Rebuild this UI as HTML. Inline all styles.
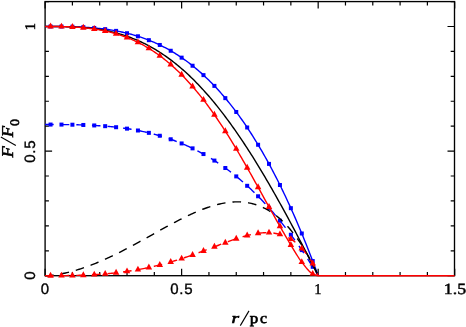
<!DOCTYPE html>
<html><head><meta charset="utf-8">
<style>
html,body{margin:0;padding:0;background:#fff;}
body{width:466px;height:327px;overflow:hidden;position:relative;}
svg{position:absolute;left:0;top:0;display:block;will-change:transform;}
text{fill:#000;text-rendering:geometricPrecision;}
.sans{font-family:"Liberation Sans",sans-serif;font-size:15px;stroke:#000;stroke-width:0.35px;}
.serif{font-family:"Liberation Serif",serif;font-size:15.5px;stroke:#000;stroke-width:0.45px;}
</style></head>
<body>
<svg width="466" height="327" viewBox="0 0 466 327">
<rect x="0" y="0" width="466" height="327" fill="#fff"/>
<rect x="45.10" y="1.58" width="409.40" height="274.12" fill="none" stroke="#000" stroke-width="1.35"/>
<path d="M45.10,275.70v-7 M45.10,1.58v7 M72.41,275.70v-3.8 M72.41,1.58v3.8 M99.71,275.70v-3.8 M99.71,1.58v3.8 M127.02,275.70v-3.8 M127.02,1.58v3.8 M154.33,275.70v-3.8 M154.33,1.58v3.8 M181.63,275.70v-7 M181.63,1.58v7 M208.94,275.70v-3.8 M208.94,1.58v3.8 M236.25,275.70v-3.8 M236.25,1.58v3.8 M263.55,275.70v-3.8 M263.55,1.58v3.8 M290.86,275.70v-3.8 M290.86,1.58v3.8 M318.17,275.70v-7 M318.17,1.58v7 M345.47,275.70v-3.8 M345.47,1.58v3.8 M372.78,275.70v-3.8 M372.78,1.58v3.8 M400.09,275.70v-3.8 M400.09,1.58v3.8 M427.39,275.70v-3.8 M427.39,1.58v3.8 M454.70,275.70v-7 M454.70,1.58v7 M45.10,275.70h7 M454.50,275.70h-7 M45.10,250.78h3.8 M454.50,250.78h-3.8 M45.10,225.86h3.8 M454.50,225.86h-3.8 M45.10,200.94h3.8 M454.50,200.94h-3.8 M45.10,176.02h3.8 M454.50,176.02h-3.8 M45.10,151.10h7 M454.50,151.10h-7 M45.10,126.18h3.8 M454.50,126.18h-3.8 M45.10,101.26h3.8 M454.50,101.26h-3.8 M45.10,76.34h3.8 M454.50,76.34h-3.8 M45.10,51.42h3.8 M454.50,51.42h-3.8 M45.10,26.50h7 M454.50,26.50h-7 M45.10,1.58h3.8 M454.50,1.58h-3.8" fill="none" stroke="#000" stroke-width="1.2"/>
<path d="M45.10,26.50 L46.47,26.50 L47.83,26.50 L49.20,26.50 L50.56,26.50 L51.93,26.50 L53.29,26.51 L54.66,26.51 L56.02,26.52 L57.39,26.52 L58.75,26.53 L60.12,26.54 L61.48,26.55 L62.85,26.57 L64.21,26.59 L65.58,26.61 L66.95,26.63 L68.31,26.65 L69.68,26.68 L71.04,26.71 L72.41,26.75 L73.77,26.79 L75.14,26.83 L76.50,26.88 L77.87,26.93 L79.23,26.99 L80.60,27.05 L81.96,27.11 L83.33,27.18 L84.69,27.26 L86.06,27.34 L87.43,27.43 L88.79,27.52 L90.16,27.62 L91.52,27.72 L92.89,27.84 L94.25,27.95 L95.62,28.08 L96.98,28.21 L98.35,28.35 L99.71,28.49 L101.08,28.65 L102.44,28.81 L103.81,28.98 L105.17,29.15 L106.54,29.34 L107.91,29.53 L109.27,29.73 L110.64,29.94 L112.00,30.16 L113.37,30.39 L114.73,30.63 L116.10,30.88 L117.46,31.14 L118.83,31.41 L120.19,31.68 L121.56,31.97 L122.92,32.27 L124.29,32.58 L125.65,32.90 L127.02,33.23 L128.39,33.57 L129.75,33.92 L131.12,34.29 L132.48,34.67 L133.85,35.05 L135.21,35.46 L136.58,35.87 L137.94,36.29 L139.31,36.73 L140.67,37.18 L142.04,37.65 L143.40,38.13 L144.77,38.62 L146.13,39.12 L147.50,39.64 L148.87,40.17 L150.23,40.72 L151.60,41.28 L152.96,41.86 L154.33,42.45 L155.69,43.05 L157.06,43.68 L158.42,44.31 L159.79,44.96 L161.15,45.63 L162.52,46.31 L163.88,47.01 L165.25,47.73 L166.61,48.46 L167.98,49.21 L169.35,49.97 L170.71,50.76 L172.08,51.56 L173.44,52.37 L174.81,53.21 L176.17,54.06 L177.54,54.93 L178.90,55.82 L180.27,56.72 L181.63,57.65 L183.00,58.59 L184.36,59.56 L185.73,60.54 L187.09,61.54 L188.46,62.56 L189.83,63.60 L191.19,64.66 L192.56,65.74 L193.92,66.84 L195.29,67.96 L196.65,69.10 L198.02,70.26 L199.38,71.45 L200.75,72.65 L202.11,73.88 L203.48,75.12 L204.84,76.39 L206.21,77.68 L207.57,78.99 L208.94,80.33 L210.31,81.68 L211.67,83.06 L213.04,84.47 L214.40,85.89 L215.77,87.34 L217.13,88.81 L218.50,90.31 L219.86,91.83 L221.23,93.37 L222.59,94.94 L223.96,96.53 L225.32,98.14 L226.69,99.78 L228.05,101.45 L229.42,103.14 L230.79,104.86 L232.15,106.60 L233.52,108.36 L234.88,110.16 L236.25,111.98 L237.61,113.82 L238.98,115.69 L240.34,117.59 L241.71,119.51 L243.07,121.46 L244.44,123.44 L245.80,125.45 L247.17,127.48 L248.53,129.54 L249.90,131.63 L251.27,133.75 L252.63,135.89 L254.00,138.07 L255.36,140.27 L256.73,142.50 L258.09,144.76 L259.46,147.05 L260.82,149.37 L262.19,151.71 L263.55,154.09 L264.92,156.50 L266.28,158.94 L267.65,161.40 L269.01,163.90 L270.38,166.43 L271.75,168.99 L273.11,171.58 L274.48,174.20 L275.84,176.86 L277.21,179.54 L278.57,182.26 L279.94,185.01 L281.30,187.79 L282.67,190.60 L284.03,193.44 L285.40,196.32 L286.76,199.23 L288.13,202.18 L289.49,205.16 L290.86,208.17 L292.23,211.21 L293.59,214.29 L294.96,217.40 L296.32,220.55 L297.69,223.73 L299.05,226.95 L300.42,230.20 L301.78,233.48 L303.15,236.80 L304.51,240.16 L305.88,243.55 L307.24,246.98 L308.61,250.44 L309.97,253.94 L311.34,257.47 L312.71,261.05 L314.07,264.65 L315.44,268.30 L316.80,271.98 L318.17,275.70" fill="none" stroke="#00f" stroke-width="1.4"/>
<path d="M45.10,124.56 L46.47,124.56 L47.83,124.56 L49.20,124.56 L50.56,124.56 L51.93,124.56 L53.29,124.56 L54.66,124.57 L56.02,124.57 L57.39,124.57 L58.75,124.58 L60.12,124.59 L61.48,124.59 L62.85,124.60 L64.21,124.61 L65.58,124.62 L66.95,124.64 L68.31,124.65 L69.68,124.67 L71.04,124.69 L72.41,124.71 L73.77,124.74 L75.14,124.76 L76.50,124.79 L77.87,124.82 L79.23,124.86 L80.60,124.89 L81.96,124.93 L83.33,124.97 L84.69,125.02 L86.06,125.07 L87.43,125.12 L88.79,125.18 L90.16,125.24 L91.52,125.30 L92.89,125.37 L94.25,125.44 L95.62,125.52 L96.98,125.60 L98.35,125.68 L99.71,125.77 L101.08,125.86 L102.44,125.96 L103.81,126.06 L105.17,126.17 L106.54,126.28 L107.91,126.40 L109.27,126.52 L110.64,126.65 L112.00,126.78 L113.37,126.92 L114.73,127.07 L116.10,127.22 L117.46,127.37 L118.83,127.54 L120.19,127.70 L121.56,127.88 L122.92,128.06 L124.29,128.25 L125.65,128.44 L127.02,128.64 L128.39,128.85 L129.75,129.06 L131.12,129.28 L132.48,129.51 L133.85,129.75 L135.21,129.99 L136.58,130.24 L137.94,130.50 L139.31,130.77 L140.67,131.04 L142.04,131.32 L143.40,131.61 L144.77,131.91 L146.13,132.22 L147.50,132.53 L148.87,132.85 L150.23,133.19 L151.60,133.53 L152.96,133.87 L154.33,134.23 L155.69,134.60 L157.06,134.98 L158.42,135.36 L159.79,135.76 L161.15,136.16 L162.52,136.58 L163.88,137.00 L165.25,137.43 L166.61,137.88 L167.98,138.33 L169.35,138.80 L170.71,139.27 L172.08,139.76 L173.44,140.25 L174.81,140.76 L176.17,141.28 L177.54,141.80 L178.90,142.34 L180.27,142.89 L181.63,143.45 L183.00,144.03 L184.36,144.61 L185.73,145.20 L187.09,145.81 L188.46,146.43 L189.83,147.06 L191.19,147.70 L192.56,148.36 L193.92,149.03 L195.29,149.71 L196.65,150.40 L198.02,151.10 L199.38,151.82 L200.75,152.55 L202.11,153.29 L203.48,154.05 L204.84,154.82 L206.21,155.60 L207.57,156.40 L208.94,157.21 L210.31,158.03 L211.67,158.87 L213.04,159.72 L214.40,160.58 L215.77,161.46 L217.13,162.35 L218.50,163.26 L219.86,164.18 L221.23,165.12 L222.59,166.07 L223.96,167.03 L225.32,168.01 L226.69,169.01 L228.05,170.02 L229.42,171.04 L230.79,172.08 L232.15,173.14 L233.52,174.21 L234.88,175.30 L236.25,176.40 L237.61,177.52 L238.98,178.65 L240.34,179.81 L241.71,180.97 L243.07,182.16 L244.44,183.36 L245.80,184.57 L247.17,185.81 L248.53,187.06 L249.90,188.32 L251.27,189.61 L252.63,190.91 L254.00,192.23 L255.36,193.56 L256.73,194.91 L258.09,196.28 L259.46,197.67 L260.82,199.08 L262.19,200.50 L263.55,201.94 L264.92,203.40 L266.28,204.88 L267.65,206.38 L269.01,207.89 L270.38,209.43 L271.75,210.98 L273.11,212.55 L274.48,214.14 L275.84,215.75 L277.21,217.38 L278.57,219.03 L279.94,220.69 L281.30,222.38 L282.67,224.09 L284.03,225.81 L285.40,227.56 L286.76,229.32 L288.13,231.11 L289.49,232.91 L290.86,234.74 L292.23,236.59 L293.59,238.45 L294.96,240.34 L296.32,242.25 L297.69,244.18 L299.05,246.13 L300.42,248.10 L301.78,250.09 L303.15,252.11 L304.51,254.14 L305.88,256.20 L307.24,258.28 L308.61,260.38 L309.97,262.50 L311.34,264.65 L312.71,266.81 L314.07,269.00 L315.44,271.21 L316.80,273.44 L318.17,275.70" fill="none" stroke="#00f" stroke-width="1.4" stroke-dasharray="8.6 7.02" stroke-dashoffset="0"/>
<rect x="48.56" y="24.50" width="4.0" height="4.0" fill="#00f"/>
<rect x="59.48" y="24.55" width="4.0" height="4.0" fill="#00f"/>
<rect x="70.41" y="24.75" width="4.0" height="4.0" fill="#00f"/>
<rect x="81.33" y="25.18" width="4.0" height="4.0" fill="#00f"/>
<rect x="92.25" y="25.95" width="4.0" height="4.0" fill="#00f"/>
<rect x="103.17" y="27.15" width="4.0" height="4.0" fill="#00f"/>
<rect x="114.10" y="28.88" width="4.0" height="4.0" fill="#00f"/>
<rect x="125.02" y="31.23" width="4.0" height="4.0" fill="#00f"/>
<rect x="135.94" y="34.29" width="4.0" height="4.0" fill="#00f"/>
<rect x="146.87" y="38.17" width="4.0" height="4.0" fill="#00f"/>
<rect x="157.79" y="42.96" width="4.0" height="4.0" fill="#00f"/>
<rect x="168.71" y="48.76" width="4.0" height="4.0" fill="#00f"/>
<rect x="179.63" y="55.65" width="4.0" height="4.0" fill="#00f"/>
<rect x="190.56" y="63.74" width="4.0" height="4.0" fill="#00f"/>
<rect x="201.48" y="73.12" width="4.0" height="4.0" fill="#00f"/>
<rect x="212.40" y="83.89" width="4.0" height="4.0" fill="#00f"/>
<rect x="223.32" y="96.14" width="4.0" height="4.0" fill="#00f"/>
<rect x="234.25" y="109.98" width="4.0" height="4.0" fill="#00f"/>
<rect x="245.17" y="125.48" width="4.0" height="4.0" fill="#00f"/>
<rect x="256.09" y="142.76" width="4.0" height="4.0" fill="#00f"/>
<rect x="267.01" y="161.90" width="4.0" height="4.0" fill="#00f"/>
<rect x="277.94" y="183.01" width="4.0" height="4.0" fill="#00f"/>
<rect x="288.86" y="206.17" width="4.0" height="4.0" fill="#00f"/>
<rect x="299.78" y="231.48" width="4.0" height="4.0" fill="#00f"/>
<rect x="310.71" y="259.05" width="4.0" height="4.0" fill="#00f"/>
<rect x="48.56" y="122.56" width="4.0" height="4.0" fill="#00f"/>
<rect x="59.48" y="122.59" width="4.0" height="4.0" fill="#00f"/>
<rect x="70.41" y="122.71" width="4.0" height="4.0" fill="#00f"/>
<rect x="81.33" y="122.97" width="4.0" height="4.0" fill="#00f"/>
<rect x="92.25" y="123.44" width="4.0" height="4.0" fill="#00f"/>
<rect x="103.17" y="124.17" width="4.0" height="4.0" fill="#00f"/>
<rect x="114.10" y="125.22" width="4.0" height="4.0" fill="#00f"/>
<rect x="125.02" y="126.64" width="4.0" height="4.0" fill="#00f"/>
<rect x="135.94" y="128.50" width="4.0" height="4.0" fill="#00f"/>
<rect x="146.87" y="130.85" width="4.0" height="4.0" fill="#00f"/>
<rect x="157.79" y="133.76" width="4.0" height="4.0" fill="#00f"/>
<rect x="168.71" y="137.27" width="4.0" height="4.0" fill="#00f"/>
<rect x="179.63" y="141.45" width="4.0" height="4.0" fill="#00f"/>
<rect x="190.56" y="146.36" width="4.0" height="4.0" fill="#00f"/>
<rect x="201.48" y="152.05" width="4.0" height="4.0" fill="#00f"/>
<rect x="212.40" y="158.58" width="4.0" height="4.0" fill="#00f"/>
<rect x="223.32" y="166.01" width="4.0" height="4.0" fill="#00f"/>
<rect x="234.25" y="174.40" width="4.0" height="4.0" fill="#00f"/>
<rect x="245.17" y="183.81" width="4.0" height="4.0" fill="#00f"/>
<rect x="256.09" y="194.28" width="4.0" height="4.0" fill="#00f"/>
<rect x="267.01" y="205.89" width="4.0" height="4.0" fill="#00f"/>
<rect x="277.94" y="218.69" width="4.0" height="4.0" fill="#00f"/>
<rect x="288.86" y="232.74" width="4.0" height="4.0" fill="#00f"/>
<rect x="299.78" y="248.09" width="4.0" height="4.0" fill="#00f"/>
<rect x="310.71" y="264.81" width="4.0" height="4.0" fill="#00f"/>
<path d="M45.10,26.50 L46.47,26.50 L47.83,26.50 L49.20,26.50 L50.56,26.50 L51.93,26.51 L53.29,26.51 L54.66,26.52 L56.02,26.53 L57.39,26.54 L58.75,26.55 L60.12,26.57 L61.48,26.59 L62.85,26.61 L64.21,26.64 L65.58,26.67 L66.95,26.71 L68.31,26.75 L69.68,26.79 L71.04,26.84 L72.41,26.90 L73.77,26.96 L75.14,27.03 L76.50,27.10 L77.87,27.18 L79.23,27.26 L80.60,27.36 L81.96,27.46 L83.33,27.56 L84.69,27.68 L86.06,27.80 L87.43,27.93 L88.79,28.07 L90.16,28.21 L91.52,28.37 L92.89,28.53 L94.25,28.71 L95.62,28.89 L96.98,29.09 L98.35,29.29 L99.71,29.50 L101.08,29.73 L102.44,29.96 L103.81,30.21 L105.17,30.46 L106.54,30.73 L107.91,31.01 L109.27,31.30 L110.64,31.61 L112.00,31.92 L113.37,32.25 L114.73,32.59 L116.10,32.95 L117.46,33.32 L118.83,33.70 L120.19,34.09 L121.56,34.50 L122.92,34.92 L124.29,35.36 L125.65,35.81 L127.02,36.27 L128.39,36.75 L129.75,37.25 L131.12,37.76 L132.48,38.28 L133.85,38.82 L135.21,39.38 L136.58,39.95 L137.94,40.54 L139.31,41.14 L140.67,41.76 L142.04,42.40 L143.40,43.05 L144.77,43.72 L146.13,44.41 L147.50,45.12 L148.87,45.84 L150.23,46.58 L151.60,47.34 L152.96,48.11 L154.33,48.90 L155.69,49.71 L157.06,50.54 L158.42,51.39 L159.79,52.25 L161.15,53.14 L162.52,54.04 L163.88,54.96 L165.25,55.90 L166.61,56.86 L167.98,57.84 L169.35,58.83 L170.71,59.85 L172.08,60.89 L173.44,61.94 L174.81,63.01 L176.17,64.11 L177.54,65.22 L178.90,66.35 L180.27,67.51 L181.63,68.68 L183.00,69.87 L184.36,71.08 L185.73,72.31 L187.09,73.56 L188.46,74.84 L189.83,76.13 L191.19,77.44 L192.56,78.77 L193.92,80.12 L195.29,81.49 L196.65,82.89 L198.02,84.30 L199.38,85.73 L200.75,87.18 L202.11,88.65 L203.48,90.15 L204.84,91.66 L206.21,93.19 L207.57,94.74 L208.94,96.32 L210.31,97.91 L211.67,99.52 L213.04,101.15 L214.40,102.81 L215.77,104.48 L217.13,106.17 L218.50,107.88 L219.86,109.61 L221.23,111.36 L222.59,113.13 L223.96,114.92 L225.32,116.73 L226.69,118.55 L228.05,120.40 L229.42,122.26 L230.79,124.15 L232.15,126.05 L233.52,127.97 L234.88,129.91 L236.25,131.87 L237.61,133.84 L238.98,135.84 L240.34,137.85 L241.71,139.88 L243.07,141.93 L244.44,143.99 L245.80,146.08 L247.17,148.18 L248.53,150.29 L249.90,152.43 L251.27,154.58 L252.63,156.74 L254.00,158.93 L255.36,161.13 L256.73,163.34 L258.09,165.57 L259.46,167.82 L260.82,170.08 L262.19,172.36 L263.55,174.65 L264.92,176.96 L266.28,179.28 L267.65,181.61 L269.01,183.96 L270.38,186.33 L271.75,188.71 L273.11,191.10 L274.48,193.50 L275.84,195.92 L277.21,198.34 L278.57,200.79 L279.94,203.24 L281.30,205.70 L282.67,208.18 L284.03,210.67 L285.40,213.17 L286.76,215.68 L288.13,218.20 L289.49,220.73 L290.86,223.27 L292.23,225.82 L293.59,228.38 L294.96,230.95 L296.32,233.53 L297.69,236.11 L299.05,238.71 L300.42,241.31 L301.78,243.92 L303.15,246.53 L304.51,249.16 L305.88,251.79 L307.24,254.42 L308.61,257.07 L309.97,259.71 L311.34,262.37 L312.71,265.02 L314.07,267.69 L315.44,270.35 L316.80,273.03 L318.17,275.70" fill="none" stroke="#000" stroke-width="1.4"/>
<path d="M45.10,275.70 L46.47,275.67 L47.83,275.61 L49.20,275.52 L50.56,275.40 L51.93,275.27 L53.29,275.11 L54.66,274.94 L56.02,274.75 L57.39,274.54 L58.75,274.32 L60.12,274.08 L61.48,273.82 L62.85,273.55 L64.21,273.26 L65.58,272.96 L66.95,272.65 L68.31,272.32 L69.68,271.98 L71.04,271.63 L72.41,271.26 L73.77,270.89 L75.14,270.50 L76.50,270.09 L77.87,269.68 L79.23,269.25 L80.60,268.82 L81.96,268.37 L83.33,267.91 L84.69,267.44 L86.06,266.96 L87.43,266.47 L88.79,265.96 L90.16,265.45 L91.52,264.93 L92.89,264.40 L94.25,263.86 L95.62,263.31 L96.98,262.75 L98.35,262.18 L99.71,261.60 L101.08,261.02 L102.44,260.42 L103.81,259.82 L105.17,259.21 L106.54,258.59 L107.91,257.97 L109.27,257.33 L110.64,256.69 L112.00,256.04 L113.37,255.39 L114.73,254.72 L116.10,254.06 L117.46,253.38 L118.83,252.70 L120.19,252.01 L121.56,251.32 L122.92,250.62 L124.29,249.91 L125.65,249.20 L127.02,248.49 L128.39,247.77 L129.75,247.05 L131.12,246.32 L132.48,245.59 L133.85,244.85 L135.21,244.11 L136.58,243.37 L137.94,242.62 L139.31,241.87 L140.67,241.12 L142.04,240.37 L143.40,239.61 L144.77,238.85 L146.13,238.09 L147.50,237.33 L148.87,236.57 L150.23,235.81 L151.60,235.05 L152.96,234.28 L154.33,233.52 L155.69,232.76 L157.06,232.00 L158.42,231.24 L159.79,230.48 L161.15,229.72 L162.52,228.96 L163.88,228.21 L165.25,227.46 L166.61,226.71 L167.98,225.97 L169.35,225.22 L170.71,224.49 L172.08,223.76 L173.44,223.03 L174.81,222.30 L176.17,221.59 L177.54,220.88 L178.90,220.17 L180.27,219.47 L181.63,218.78 L183.00,218.09 L184.36,217.42 L185.73,216.75 L187.09,216.09 L188.46,215.44 L189.83,214.80 L191.19,214.16 L192.56,213.54 L193.92,212.93 L195.29,212.33 L196.65,211.74 L198.02,211.16 L199.38,210.60 L200.75,210.05 L202.11,209.51 L203.48,208.99 L204.84,208.48 L206.21,207.98 L207.57,207.50 L208.94,207.04 L210.31,206.59 L211.67,206.16 L213.04,205.74 L214.40,205.35 L215.77,204.97 L217.13,204.61 L218.50,204.27 L219.86,203.95 L221.23,203.65 L222.59,203.37 L223.96,203.12 L225.32,202.88 L226.69,202.67 L228.05,202.48 L229.42,202.31 L230.79,202.17 L232.15,202.06 L233.52,201.97 L234.88,201.91 L236.25,201.87 L237.61,201.86 L238.98,201.88 L240.34,201.92 L241.71,202.00 L243.07,202.11 L244.44,202.25 L245.80,202.41 L247.17,202.61 L248.53,202.85 L249.90,203.11 L251.27,203.42 L252.63,203.75 L254.00,204.12 L255.36,204.53 L256.73,204.97 L258.09,205.45 L259.46,205.97 L260.82,206.53 L262.19,207.13 L263.55,207.76 L264.92,208.44 L266.28,209.16 L267.65,209.93 L269.01,210.73 L270.38,211.58 L271.75,212.48 L273.11,213.42 L274.48,214.41 L275.84,215.45 L277.21,216.53 L278.57,217.66 L279.94,218.84 L281.30,220.08 L282.67,221.36 L284.03,222.70 L285.40,224.09 L286.76,225.53 L288.13,227.03 L289.49,228.58 L290.86,230.19 L292.23,231.86 L293.59,233.59 L294.96,235.38 L296.32,237.22 L297.69,239.13 L299.05,241.10 L300.42,243.13 L301.78,245.23 L303.15,247.39 L304.51,249.61 L305.88,251.90 L307.24,254.26 L308.61,256.69 L309.97,259.19 L311.34,261.76 L312.71,264.40 L314.07,267.12 L315.44,269.90 L316.80,272.76 L318.17,275.70" fill="none" stroke="#000" stroke-width="1.4" stroke-dasharray="8.6 7.02" stroke-dashoffset="0"/>
<path d="M45.10,26.50 L46.47,26.50 L47.83,26.50 L49.20,26.50 L50.56,26.50 L51.93,26.51 L53.29,26.52 L54.66,26.52 L56.02,26.54 L57.39,26.55 L58.75,26.57 L60.12,26.59 L61.48,26.61 L62.85,26.63 L64.21,26.66 L65.58,26.70 L66.95,26.74 L68.31,26.79 L69.68,26.84 L71.04,26.90 L72.41,26.96 L73.77,27.03 L75.14,27.10 L76.50,27.19 L77.87,27.28 L79.23,27.38 L80.60,27.49 L81.96,27.60 L83.33,27.72 L84.69,27.84 L86.06,27.98 L87.43,28.13 L88.79,28.29 L90.16,28.46 L91.52,28.64 L92.89,28.82 L94.25,29.02 L95.62,29.22 L96.98,29.44 L98.35,29.67 L99.71,29.91 L101.08,30.17 L102.44,30.44 L103.81,30.71 L105.17,31.00 L106.54,31.30 L107.91,31.61 L109.27,31.94 L110.64,32.29 L112.00,32.65 L113.37,33.02 L114.73,33.40 L116.10,33.80 L117.46,34.21 L118.83,34.64 L120.19,35.08 L121.56,35.55 L122.92,36.03 L124.29,36.52 L125.65,37.03 L127.02,37.55 L128.39,38.09 L129.75,38.64 L131.12,39.22 L132.48,39.82 L133.85,40.43 L135.21,41.07 L136.58,41.71 L137.94,42.38 L139.31,43.06 L140.67,43.76 L142.04,44.49 L143.40,45.23 L144.77,46.00 L146.13,46.78 L147.50,47.58 L148.87,48.40 L150.23,49.24 L151.60,50.10 L152.96,50.99 L154.33,51.90 L155.69,52.83 L157.06,53.78 L158.42,54.75 L159.79,55.74 L161.15,56.75 L162.52,57.78 L163.88,58.84 L165.25,59.93 L166.61,61.04 L167.98,62.17 L169.35,63.32 L170.71,64.48 L172.08,65.68 L173.44,66.90 L174.81,68.14 L176.17,69.41 L177.54,70.71 L178.90,72.03 L180.27,73.36 L181.63,74.72 L183.00,76.11 L184.36,77.52 L185.73,78.96 L187.09,80.42 L188.46,81.91 L189.83,83.42 L191.19,84.96 L192.56,86.51 L193.92,88.09 L195.29,89.70 L196.65,91.34 L198.02,93.00 L199.38,94.68 L200.75,96.39 L202.11,98.12 L203.48,99.87 L204.84,101.65 L206.21,103.45 L207.57,105.29 L208.94,107.14 L210.31,109.02 L211.67,110.92 L213.04,112.85 L214.40,114.79 L215.77,116.75 L217.13,118.75 L218.50,120.77 L219.86,122.81 L221.23,124.87 L222.59,126.95 L223.96,129.06 L225.32,131.18 L226.69,133.32 L228.05,135.49 L229.42,137.67 L230.79,139.88 L232.15,142.11 L233.52,144.36 L234.88,146.62 L236.25,148.89 L237.61,151.18 L238.98,153.50 L240.34,155.83 L241.71,158.18 L243.07,160.54 L244.44,162.91 L245.80,165.30 L247.17,167.69 L248.53,170.09 L249.90,172.52 L251.27,174.95 L252.63,177.39 L254.00,179.85 L255.36,182.30 L256.73,184.76 L258.09,187.22 L259.46,189.68 L260.82,192.15 L262.19,194.63 L263.55,197.11 L264.92,199.59 L266.28,202.06 L267.65,204.53 L269.01,206.98 L270.38,209.42 L271.75,211.85 L273.11,214.28 L274.48,216.71 L275.84,219.12 L277.21,221.53 L278.57,223.92 L279.94,226.31 L281.30,228.69 L282.67,231.07 L284.03,233.45 L285.40,235.82 L286.76,238.17 L288.13,240.50 L289.49,242.79 L290.86,245.05 L292.23,247.30 L293.59,249.58 L294.96,251.85 L296.32,254.08 L297.69,256.25 L299.05,258.34 L300.42,260.30 L301.78,262.12 L303.15,263.88 L304.51,265.65 L305.88,267.39 L307.24,269.04 L308.61,270.56 L309.97,271.90 L311.34,273.00 L312.71,273.83 L314.07,274.47 L315.44,275.03 L316.80,275.46 L318.17,275.70 L454.50,275.70" fill="none" stroke="#f00" stroke-width="1.4"/>
<path d="M45.10,275.70 L46.47,275.70 L47.83,275.70 L49.20,275.70 L50.56,275.70 L51.93,275.70 L53.29,275.69 L54.66,275.69 L56.02,275.68 L57.39,275.67 L58.75,275.67 L60.12,275.66 L61.48,275.65 L62.85,275.64 L64.21,275.62 L65.58,275.61 L66.95,275.59 L68.31,275.56 L69.68,275.54 L71.04,275.51 L72.41,275.49 L73.77,275.46 L75.14,275.43 L76.50,275.39 L77.87,275.35 L79.23,275.31 L80.60,275.26 L81.96,275.22 L83.33,275.17 L84.69,275.11 L86.06,275.06 L87.43,275.00 L88.79,274.93 L90.16,274.86 L91.52,274.79 L92.89,274.71 L94.25,274.64 L95.62,274.56 L96.98,274.47 L98.35,274.38 L99.71,274.28 L101.08,274.18 L102.44,274.07 L103.81,273.97 L105.17,273.85 L106.54,273.74 L107.91,273.62 L109.27,273.49 L110.64,273.36 L112.00,273.22 L113.37,273.08 L114.73,272.93 L116.10,272.78 L117.46,272.63 L118.83,272.46 L120.19,272.30 L121.56,272.12 L122.92,271.95 L124.29,271.76 L125.65,271.57 L127.02,271.38 L128.39,271.18 L129.75,270.98 L131.12,270.76 L132.48,270.55 L133.85,270.32 L135.21,270.09 L136.58,269.86 L137.94,269.62 L139.31,269.37 L140.67,269.12 L142.04,268.86 L143.40,268.60 L144.77,268.32 L146.13,268.05 L147.50,267.76 L148.87,267.47 L150.23,267.18 L151.60,266.88 L152.96,266.57 L154.33,266.25 L155.69,265.93 L157.06,265.60 L158.42,265.26 L159.79,264.93 L161.15,264.58 L162.52,264.23 L163.88,263.87 L165.25,263.50 L166.61,263.13 L167.98,262.75 L169.35,262.36 L170.71,261.97 L172.08,261.58 L173.44,261.17 L174.81,260.76 L176.17,260.35 L177.54,259.92 L178.90,259.50 L180.27,259.06 L181.63,258.63 L183.00,258.18 L184.36,257.73 L185.73,257.28 L187.09,256.82 L188.46,256.35 L189.83,255.88 L191.19,255.41 L192.56,254.93 L193.92,254.44 L195.29,253.96 L196.65,253.46 L198.02,252.97 L199.38,252.46 L200.75,251.96 L202.11,251.45 L203.48,250.95 L204.84,250.44 L206.21,249.92 L207.57,249.41 L208.94,248.89 L210.31,248.36 L211.67,247.84 L213.04,247.32 L214.40,246.80 L215.77,246.28 L217.13,245.76 L218.50,245.24 L219.86,244.72 L221.23,244.20 L222.59,243.68 L223.96,243.17 L225.32,242.67 L226.69,242.16 L228.05,241.66 L229.42,241.16 L230.79,240.67 L232.15,240.18 L233.52,239.70 L234.88,239.24 L236.25,238.78 L237.61,238.34 L238.98,237.89 L240.34,237.45 L241.71,237.03 L243.07,236.61 L244.44,236.21 L245.80,235.84 L247.17,235.49 L248.53,235.15 L249.90,234.81 L251.27,234.47 L252.63,234.15 L254.00,233.86 L255.36,233.60 L256.73,233.39 L258.09,233.24 L259.46,233.12 L260.82,233.01 L262.19,232.90 L263.55,232.81 L264.92,232.73 L266.28,232.67 L267.65,232.64 L269.01,232.62 L270.38,232.66 L271.75,232.78 L273.11,232.96 L274.48,233.19 L275.84,233.46 L277.21,233.76 L278.57,234.08 L279.94,234.40 L281.30,234.76 L282.67,235.20 L284.03,235.70 L285.40,236.27 L286.76,236.90 L288.13,237.58 L289.49,238.30 L290.86,239.07 L292.23,239.91 L293.59,240.88 L294.96,241.96 L296.32,243.13 L297.69,244.39 L299.05,245.72 L300.42,247.11 L301.78,248.54 L303.15,250.03 L304.51,251.61 L305.88,253.29 L307.24,255.08 L308.61,256.99 L309.97,259.02 L311.34,261.18 L312.71,263.49 L314.07,266.09 L315.44,269.06 L316.80,272.30 L318.17,275.70" fill="none" stroke="#f00" stroke-width="1.4" stroke-dasharray="8.6 7.02" stroke-dashoffset="0"/>
<path d="M47.31,28.47 L53.81,28.47 L50.56,22.57Z" fill="#f00"/>
<path d="M58.23,28.57 L64.73,28.57 L61.48,22.67Z" fill="#f00"/>
<path d="M69.16,28.93 L75.66,28.93 L72.41,23.03Z" fill="#f00"/>
<path d="M80.08,29.68 L86.58,29.68 L83.33,23.78Z" fill="#f00"/>
<path d="M91.00,30.98 L97.50,30.98 L94.25,25.08Z" fill="#f00"/>
<path d="M101.92,32.97 L108.42,32.97 L105.17,27.07Z" fill="#f00"/>
<path d="M112.85,35.77 L119.35,35.77 L116.10,29.87Z" fill="#f00"/>
<path d="M123.77,39.52 L130.27,39.52 L127.02,33.62Z" fill="#f00"/>
<path d="M134.69,44.34 L141.19,44.34 L137.94,38.44Z" fill="#f00"/>
<path d="M145.62,50.37 L152.12,50.37 L148.87,44.47Z" fill="#f00"/>
<path d="M156.54,57.70 L163.04,57.70 L159.79,51.80Z" fill="#f00"/>
<path d="M167.46,66.45 L173.96,66.45 L170.71,60.55Z" fill="#f00"/>
<path d="M178.38,76.69 L184.88,76.69 L181.63,70.79Z" fill="#f00"/>
<path d="M189.31,88.48 L195.81,88.48 L192.56,82.58Z" fill="#f00"/>
<path d="M200.23,101.84 L206.73,101.84 L203.48,95.94Z" fill="#f00"/>
<path d="M211.15,116.75 L217.65,116.75 L214.40,110.85Z" fill="#f00"/>
<path d="M222.07,133.14 L228.57,133.14 L225.32,127.24Z" fill="#f00"/>
<path d="M233.00,150.86 L239.50,150.86 L236.25,144.96Z" fill="#f00"/>
<path d="M243.92,169.66 L250.42,169.66 L247.17,163.76Z" fill="#f00"/>
<path d="M254.84,189.18 L261.34,189.18 L258.09,183.28Z" fill="#f00"/>
<path d="M265.76,208.94 L272.26,208.94 L269.01,203.04Z" fill="#f00"/>
<path d="M276.69,228.27 L283.19,228.27 L279.94,222.37Z" fill="#f00"/>
<path d="M287.61,247.02 L294.11,247.02 L290.86,241.12Z" fill="#f00"/>
<path d="M298.53,264.09 L305.03,264.09 L301.78,258.19Z" fill="#f00"/>
<path d="M309.46,275.80 L315.96,275.80 L312.71,269.90Z" fill="#f00"/>
<path d="M47.31,277.66 L53.81,277.66 L50.56,271.76Z" fill="#f00"/>
<path d="M58.23,277.61 L64.73,277.61 L61.48,271.71Z" fill="#f00"/>
<path d="M69.16,277.46 L75.66,277.46 L72.41,271.56Z" fill="#f00"/>
<path d="M80.08,277.13 L86.58,277.13 L83.33,271.23Z" fill="#f00"/>
<path d="M91.00,276.60 L97.50,276.60 L94.25,270.70Z" fill="#f00"/>
<path d="M101.92,275.82 L108.42,275.82 L105.17,269.92Z" fill="#f00"/>
<path d="M112.85,274.75 L119.35,274.75 L116.10,268.85Z" fill="#f00"/>
<path d="M123.77,273.35 L130.27,273.35 L127.02,267.45Z" fill="#f00"/>
<path d="M134.69,271.59 L141.19,271.59 L137.94,265.69Z" fill="#f00"/>
<path d="M145.62,269.44 L152.12,269.44 L148.87,263.54Z" fill="#f00"/>
<path d="M156.54,266.89 L163.04,266.89 L159.79,260.99Z" fill="#f00"/>
<path d="M167.46,263.94 L173.96,263.94 L170.71,258.04Z" fill="#f00"/>
<path d="M178.38,260.59 L184.88,260.59 L181.63,254.69Z" fill="#f00"/>
<path d="M189.31,256.89 L195.81,256.89 L192.56,250.99Z" fill="#f00"/>
<path d="M200.23,252.91 L206.73,252.91 L203.48,247.01Z" fill="#f00"/>
<path d="M211.15,248.77 L217.65,248.77 L214.40,242.87Z" fill="#f00"/>
<path d="M222.07,244.63 L228.57,244.63 L225.32,238.73Z" fill="#f00"/>
<path d="M233.00,240.75 L239.50,240.75 L236.25,234.85Z" fill="#f00"/>
<path d="M243.92,237.46 L250.42,237.46 L247.17,231.56Z" fill="#f00"/>
<path d="M254.84,235.21 L261.34,235.21 L258.09,229.31Z" fill="#f00"/>
<path d="M265.76,234.59 L272.26,234.59 L269.01,228.69Z" fill="#f00"/>
<path d="M276.69,236.37 L283.19,236.37 L279.94,230.47Z" fill="#f00"/>
<path d="M287.61,241.03 L294.11,241.03 L290.86,235.13Z" fill="#f00"/>
<path d="M298.53,250.50 L305.03,250.50 L301.78,244.60Z" fill="#f00"/>
<path d="M309.46,265.46 L315.96,265.46 L312.71,259.56Z" fill="#f00"/>
<!-- x tick labels -->
<g class="sans" text-anchor="middle">
<text x="44.8" y="293.8">0</text>
<text x="181.8" y="293.8" letter-spacing="0.7">0.5</text>
<text transform="translate(35.0,275.70) rotate(-90)">0</text>
<text transform="translate(35.0,151.30) rotate(-90)" letter-spacing="0.7">0.5</text>
</g>
<g class="serif" text-anchor="middle">
<text transform="translate(318.0,293.6) scale(0.94,0.95)">1</text>
<text transform="translate(455.0,293.6) scale(1.15,1)">1.5</text>
<text transform="translate(35.1,26.50) rotate(-90) scale(0.94,0.95)">1</text>
</g>
<!-- y axis label F/F0 -->
<g style="font-family:'Liberation Serif',serif;font-style:italic;font-size:16.5px;stroke:#000;stroke-width:0.55px">
<text transform="translate(13.2,157.5) rotate(-90) scale(1.12,1)">F</text>
<text transform="translate(13.2,137.3) rotate(-90) scale(1.12,1)">F</text>
<text transform="translate(18.7,126.0) rotate(-90) scale(1.08,1)" style="font-style:normal;font-size:13px">0</text>
</g>
<path d="M15.85,145.6 L0.86,137.0" stroke="#000" stroke-width="1.1" fill="none"/>
<!-- x axis label r/pc -->
<g style="font-family:'Liberation Serif',serif;font-size:15px;stroke:#000;stroke-width:0.6px">
<text transform="translate(231.4,323) scale(1.3,1)" style="font-style:italic">r</text>
<text transform="translate(249.7,323) scale(1.13,1)">p</text>
<text transform="translate(260.0,323) scale(1.05,1)">c</text>
</g>
<path d="M240.3,325.6 L249.0,310.85" stroke="#000" stroke-width="1.1" fill="none"/>
</svg>
</body></html>
